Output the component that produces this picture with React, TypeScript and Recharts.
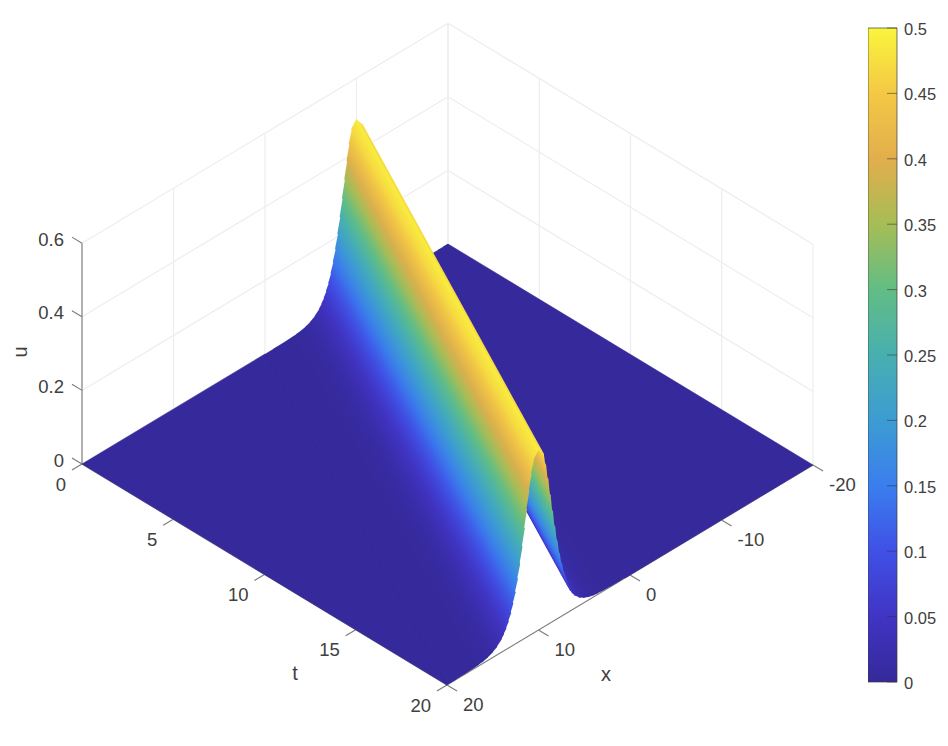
import React from "react";
import { ScatterChart, Scatter, XAxis, YAxis, BarChart, Bar } from "recharts";

const W = 948;
const H = 746;
const FONT = "'Liberation Sans', Arial, sans-serif";
const TEXT = "#404040";

// axis ticks
const tTicks = [0, 5, 10, 15, 20];
const xTicks = [20, 10, 0, -10, -20];
const uTicks = [0, 0.2, 0.4, 0.6];
const uTickLabels = ["0", "0.2", "0.4", "0.6"];
const barTicks = [0, 0.05, 0.1, 0.15, 0.2, 0.25, 0.3, 0.35, 0.4, 0.45, 0.5];

// colour bar
const colorU = [0, 0.05, 0.1, 0.15, 0.2, 0.25, 0.3, 0.35, 0.4, 0.45, 0.5];
const colorHex = ["#35299b", "#4034c4", "#4050e6", "#3a7eee", "#3c9cd2", "#48afb0", "#62bd84", "#a6bd56", "#e2ae4c", "#f4c845", "#f9f53c"];

// ridge cross-section: distance from the crest and height there
const ridgeOffset = [0, 0.5, 0.75, 1, 1.25, 1.5, 1.75, 2, 2.25, 2.5, 2.75, 3, 3.25, 3.5, 3.75, 4, 4.5, 5, 5.5, 6, 6.5, 7, 8, 9, 10];
const ridgeHeight = [0.49, 0.47, 0.4358, 0.3932, 0.3462, 0.2983, 0.2523, 0.21, 0.1725, 0.1402, 0.113, 0.0904, 0.0719, 0.0569, 0.0449, 0.0353, 0.0217, 0.0133, 0.0081, 0.0049, 0.003, 0.0018, 0.0007, 0.0003, 0.0001];
const crestStart = -10; // x of the crest at t = 0
const tEnds = [0, 20];

const rgb = (h: string) => [1, 3, 5].map((i) => parseInt(h.slice(i, i + 2), 16));
function colorOf(u: number) {
  for (let i = 0; i < colorU.length - 1; i++) {
    if (u <= colorU[i + 1]) {
      const f = (u - colorU[i]) / (colorU[i + 1] - colorU[i]);
      const a = rgb(colorHex[i]);
      const b = rgb(colorHex[i + 1]);
      return `rgb(${a.map((v, k) => Math.round(v + (b[k] - v) * f)).join(",")})`;
    }
  }
  return colorHex[colorHex.length - 1];
}

// the 3-D view: (x, t, u) to the two plane axes of the chart
const view = (x: number, t: number, u: number) => ({
  px: 447 + (t - 20) * 18.25 - (x - 20) * 9.15,
  py: 685 + (t - 20) * 11.05 + (x - 20) * 5.5 - u * 368,
});

const seg = (a: number[], b: number[], kind: string) => {
  const p = view(a[0], a[1], a[2]);
  const q = view(b[0], b[1], b[2]);
  return { px: p.px, py: p.py, qx: q.px, qy: q.py, kind };
};

const gridSegs = [
  ...xTicks.map((x) => seg([x, 0, 0], [x, 0, 0.6], "grid")),
  ...tTicks.map((t) => seg([-20, t, 0], [-20, t, 0.6], "grid")),
  ...uTicks.map((u) => seg([20, 0, u], [-20, 0, u], "grid")),
  ...uTicks.map((u) => seg([-20, 0, u], [-20, 20, u], "grid")),
];
const axisSegs = [
  seg([20, 0, 0], [20, 0, 0.6], "axis"),
  seg([20, 0, 0], [20, 20, 0], "axis"),
  seg([20, 20, 0], [-20, 20, 0], "axis"),
  ...uTicks.map((u) => seg([20, 0, u], [20, -0.55, u], "axis")),
  ...tTicks.map((t) => seg([20, t, 0], [21.1, t, 0], "axis")),
  ...xTicks.map((x) => seg([x, 20, 0], [x, 20.55, 0], "axis")),
];

// surface cells, far side first
const profile = [
  ...ridgeOffset.slice(1).reverse().map((d, i) => ({ d: -d, u: ridgeHeight[ridgeOffset.length - 1 - i] })),
  ...ridgeOffset.map((d, i) => ({ d, u: ridgeHeight[i] })),
];
const strips = profile.slice(0, -1).map((s, i) => {
  const e = profile[i + 1];
  const a0 = view(crestStart + tEnds[0] + s.d, tEnds[0], s.u);
  const a1 = view(crestStart + tEnds[1] + s.d, tEnds[1], s.u);
  const b1 = view(crestStart + tEnds[1] + e.d, tEnds[1], e.u);
  const b0 = view(crestStart + tEnds[0] + e.d, tEnds[0], e.u);
  return { ...a0, id: `s${i}`, flat: false, verts: [a0, a1, b1, b0], u0: s.u, u1: e.u };
});
// the far floor runs on under the first strip
const floorFar = [view(-20, 0, 0), view(-20, 20, 0), view(0.5, 20, 0), view(-19.5, 0, 0)];
const floorNear = [view(0, 0, 0), view(20, 20, 0), view(20, 0, 0)];
const cells = [
  { ...floorFar[0], id: "far", flat: true, verts: floorFar, u0: 0.0001, u1: 0.0001 },
  ...strips,
  { ...floorNear[0], id: "near", flat: true, verts: floorNear, u0: 0.0001, u1: 0.0001 },
];

const labels = [
  ...uTicks.map((u, i) => {
    const p = view(20, 0, u);
    return { px: 64, py: p.py - 4, text: uTickLabels[i], anchor: "end", size: 18.5 };
  }),
  ...tTicks.map((t) => {
    const p = view(20, t, 0);
    return { px: p.px - 16, py: p.py + 20, text: String(t), anchor: "end", size: 18.5 };
  }),
  ...xTicks.map((x) => {
    const p = view(x, 20, 0);
    return { px: p.px + 16, py: p.py + 19.5, text: String(x), anchor: "start", size: 18.5 };
  }),
  { px: 295, py: 673, text: "t", anchor: "middle", size: 20 },
  { px: 606, py: 674, text: "x", anchor: "middle", size: 20 },
  { px: 20, py: 352, text: "u", anchor: "middle", rotate: -90, size: 20 },
];

const SegShape = (props: any) => {
  const { cx, cy, payload: s } = props;
  return (
    <line
      x1={cx}
      y1={cy}
      x2={cx + s.qx - s.px}
      y2={cy + s.qy - s.py}
      stroke={s.kind === "grid" ? "#ededed" : "#7a7a7a"}
      strokeWidth={s.kind === "grid" ? 1.2 : 1.1}
    />
  );
};

const CellShape = (props: any) => {
  const { cx, cy, payload: c } = props;
  const v = c.verts.map((p: any) => [cx + p.px - c.px, cy + p.py - c.py]);
  if (c.flat) {
    const col = colorOf(c.u0);
    return <polygon points={v.map((p: number[]) => p.join(",")).join(" ")} fill={col} stroke={col} strokeWidth={0.5} />;
  }
  // gradient across the strip, from one long edge to the other
  const dx = v[1][0] - v[0][0];
  const dy = v[1][1] - v[0][1];
  const len = Math.hypot(dx, dy);
  const nx = -dy / len;
  const ny = dx / len;
  const wx = v[3][0] - v[0][0];
  const wy = v[3][1] - v[0][1];
  const w = wx * nx + wy * ny;
  const gid = `cell-${c.id}`;
  // the trailing edge runs a little under the next strip, so no seam shows
  const lap = w >= 0 ? 0.9 : -0.9;
  const out = [v[0], v[1], [v[2][0] + nx * lap, v[2][1] + ny * lap], [v[3][0] + nx * lap, v[3][1] + ny * lap]];
  return (
    <g>
      <defs>
        <linearGradient id={gid} gradientUnits="userSpaceOnUse" x1={v[0][0]} y1={v[0][1]} x2={v[0][0] + nx * w} y2={v[0][1] + ny * w}>
          <stop offset="0" stopColor={colorOf(c.u0)} />
          <stop offset="1" stopColor={colorOf(c.u1)} />
        </linearGradient>
      </defs>
      <polygon points={out.map((p: number[]) => p.join(",")).join(" ")} fill={`url(#${gid})`} />
    </g>
  );
};

const TextShape = (props: any) => {
  const { cx, cy, payload: l } = props;
  return (
    <text
      x={cx}
      y={cy}
      textAnchor={l.anchor}
      dominantBaseline="central"
      fontFamily={FONT}
      fontSize={l.size}
      fill={TEXT}
      transform={l.rotate ? `rotate(${l.rotate} ${cx} ${cy})` : undefined}
    >
      {l.text}
    </text>
  );
};

const BarTick = (props: any) => {
  const { x, y, payload } = props;
  return (
    <g>
      <line x1={x - 10} y1={y} x2={x} y2={y} stroke="#333" strokeOpacity={0.55} strokeWidth={1} />
      <text x={x + 7} y={y + 1} dominantBaseline="central" fontFamily={FONT} fontSize={16.5} fill={TEXT}>
        {String(payload.value)}
      </text>
    </g>
  );
};

const barData = [{ name: "u", range: [0, 0.5] }];

export default function App() {
  return (
    <div style={{ position: "absolute", left: 0, top: 0, width: W, height: H, background: "#fff" }}>
      <div style={{ position: "absolute", left: 0, top: 0 }}>
        <ScatterChart width={W} height={H} margin={{ top: 0, right: 0, bottom: 0, left: 0 }}>
          <XAxis type="number" dataKey="px" domain={[0, W]} hide allowDataOverflow />
          <YAxis type="number" dataKey="py" domain={[0, H]} reversed hide allowDataOverflow />
          <Scatter data={gridSegs} shape={SegShape} isAnimationActive={false} />
          <Scatter data={axisSegs} shape={SegShape} isAnimationActive={false} />
          <Scatter data={cells} shape={CellShape} isAnimationActive={false} />
          <Scatter data={labels} shape={TextShape} isAnimationActive={false} />
        </ScatterChart>
      </div>
      <div style={{ position: "absolute", left: 868, top: 0 }}>
        <BarChart width={80} height={H} data={barData} margin={{ top: 28, right: 0, bottom: 64, left: 0 }} barCategoryGap={0}>
          <defs>
            <linearGradient id="parula" x1="0" y1="1" x2="0" y2="0">
              {colorU.map((u, i) => (
                <stop key={u} offset={u / 0.5} stopColor={colorHex[i]} />
              ))}
            </linearGradient>
          </defs>
          <XAxis dataKey="name" hide />
          <YAxis
            orientation="right"
            width={51}
            domain={[0, 0.5]}
            ticks={barTicks}
            interval={0}
            axisLine={false}
            tickLine={false}
            tickSize={0}
            tickMargin={0}
            tick={BarTick}
          />
          <Bar dataKey="range" fill="url(#parula)" stroke="#3c3c3c" strokeOpacity={0.7} strokeWidth={1} isAnimationActive={false} />
        </BarChart>
      </div>
    </div>
  );
}
